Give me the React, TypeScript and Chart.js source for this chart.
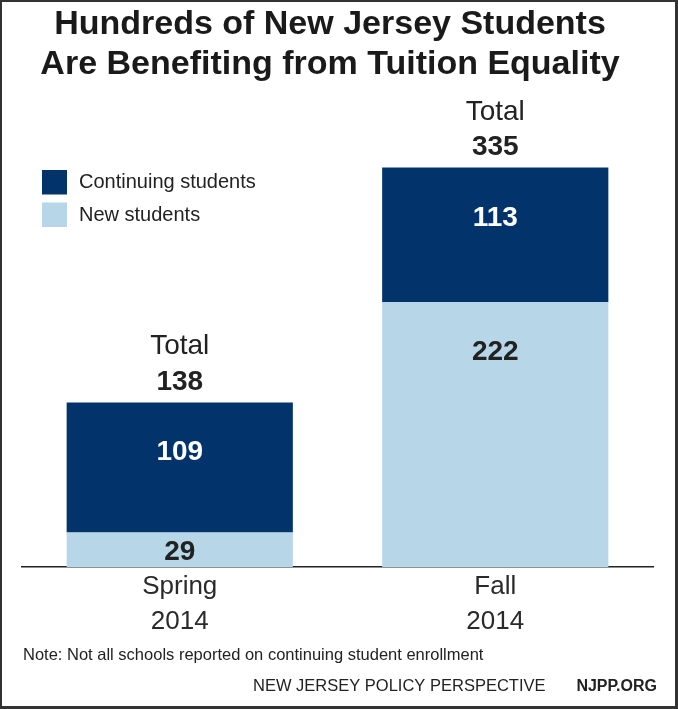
import React, { useEffect, useRef } from "react";
import { Chart, registerables } from "chart.js";

Chart.register(...registerables);

const titleLines = ["Hundreds of New Jersey Students", "Are Benefiting from Tuition Equality"];
const categories = [["Spring", "2014"], ["Fall", "2014"]];
const newStudents = [29, 222];
const continuingStudents = [109, 113];
const totals = [138, 335];
const seriesLabels = ["New students", "Continuing students"];
const noteText = "Note: Not all schools reported on continuing student enrollment";
const sourceText = "NEW JERSEY POLICY PERSPECTIVE";
const siteText = "NJPP.ORG";

const DARK = "#02346b";
const LIGHT = "#b7d7e8";
const TEXT = "#222222";
const FONT = "'Liberation Sans', Arial, Helvetica, sans-serif";

const decorPlugin = {
  id: "decor",
  beforeDraw(chart: any) {
    const { ctx, width, height } = chart;
    ctx.save();
    ctx.fillStyle = "#ffffff";
    ctx.fillRect(0, 0, width, height);
    ctx.restore();
  },
  afterDraw(chart: any) {
    const { ctx, width, height } = chart;
    ctx.save();
    // Title
    ctx.fillStyle = "#1a1a1a";
    ctx.font = `bold 34px ${FONT}`;
    ctx.textAlign = "center";
    ctx.textBaseline = "alphabetic";
    titleLines.forEach((t, i) => ctx.fillText(t, 330, 34 + i * 40));

    // Legend (top: continuing, bottom: new)
    const legendItems = [
      { label: seriesLabels[1], color: DARK },
      { label: seriesLabels[0], color: LIGHT },
    ];
    ctx.textAlign = "left";
    ctx.font = `20px ${FONT}`;
    legendItems.forEach((it, i) => {
      ctx.fillStyle = it.color;
      ctx.fillRect(42, 170 + i * 32.5, 25, 24.5);
      ctx.fillStyle = TEXT;
      ctx.fillText(it.label, 79, 188 + i * 33);
    });

    // Segment values
    const metaNew = chart.getDatasetMeta(0);
    const metaCont = chart.getDatasetMeta(1);
    ctx.textAlign = "center";
    ctx.font = `bold 28px ${FONT}`;
    const drawSeg = (el: any, val: number, color: string) => {
      const top = Math.min(el.y, el.base);
      const h = Math.abs(el.base - el.y);
      ctx.fillStyle = color;
      ctx.fillText(String(val), el.x, top + Math.min(48, h / 2) + 10);
    };
    metaNew.data.forEach((el: any, i: number) => drawSeg(el, newStudents[i], TEXT));
    metaCont.data.forEach((el: any, i: number) => drawSeg(el, continuingStudents[i], "#ffffff"));

    // Totals
    metaCont.data.forEach((el: any, i: number) => {
      const top = Math.min(el.y, el.base);
      ctx.fillStyle = TEXT;
      ctx.font = `28px ${FONT}`;
      ctx.fillText("Total", el.x, top - 48);
      ctx.font = `bold 28px ${FONT}`;
      ctx.fillText(String(totals[i]), el.x, top - 12.5);
    });

    // Note and footer
    ctx.textAlign = "left";
    ctx.fillStyle = TEXT;
    ctx.font = `16.5px ${FONT}`;
    ctx.fillText(noteText, 23, 660);
    ctx.fillText(sourceText, 253, 691);
    ctx.font = `bold 16px ${FONT}`;
    ctx.textAlign = "right";
    ctx.fillText(siteText, 657, 691);

    // Frame
    ctx.fillStyle = "#333333";
    ctx.fillRect(0, 0, width, 2);
    ctx.fillRect(0, 0, 2, height);
    ctx.fillRect(width - 3, 0, 3, height);
    ctx.fillRect(0, height - 3, width, 3);
    ctx.restore();
  },
};

export default function App() {
  const ref = useRef<HTMLCanvasElement | null>(null);
  useEffect(() => {
    if (!ref.current) return;
    const chart = new Chart(ref.current, {
      type: "bar",
      data: {
        labels: categories as any,
        datasets: [
          {
            label: seriesLabels[0],
            data: newStudents,
            backgroundColor: LIGHT,
            borderWidth: 0,
            barPercentage: 0.717,
            categoryPercentage: 1,
          },
          {
            label: seriesLabels[1],
            data: continuingStudents,
            backgroundColor: DARK,
            borderWidth: 0,
            barPercentage: 0.717,
            categoryPercentage: 1,
          },
        ],
      },
      options: {
        responsive: false,
        animation: false,
        devicePixelRatio: 1,
        layout: { padding: { left: 22, right: 25, top: 90, bottom: 67 } },
        plugins: {
          legend: { display: false },
          title: { display: false },
          tooltip: { enabled: false },
        },
        scales: {
          x: {
            stacked: true,
            grid: { display: false, drawTicks: false },
            border: { display: true, color: "#222222", width: 1.5 },
            ticks: {
              color: "#2a2a2a",
              font: { family: FONT, size: 26, lineHeight: 35 / 26 },
              padding: 2.5,
              maxRotation: 0,
              autoSkip: false,
            },
          },
          y: {
            stacked: true,
            display: false,
            min: 0,
            max: 400,
          },
        },
      },
      plugins: [decorPlugin],
    });
    return () => chart.destroy();
  }, []);
  return (
    <div style={{ position: "fixed", left: 0, top: 0, width: 678, height: 709, background: "#fff" }}>
      <canvas ref={ref} width={678} height={709} style={{ display: "block" }} />
    </div>
  );
}
